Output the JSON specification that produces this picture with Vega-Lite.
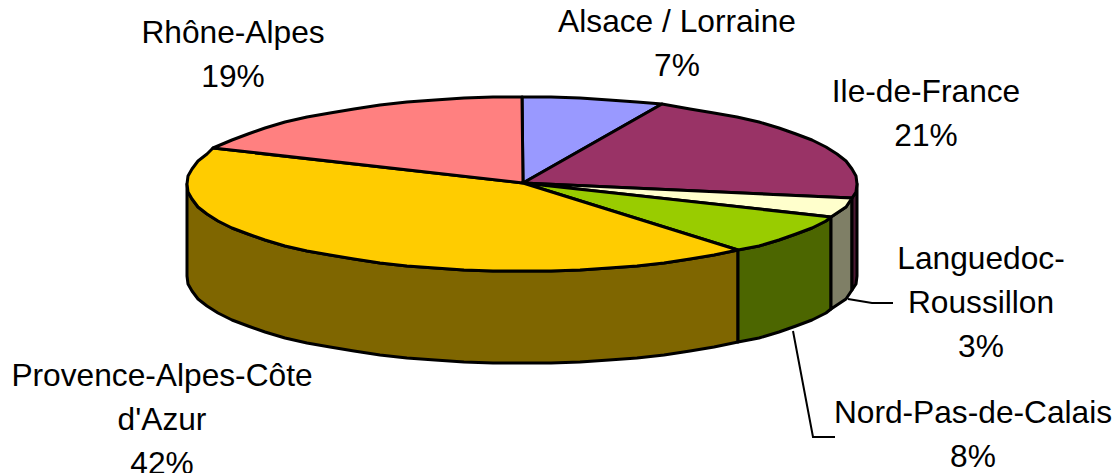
{"$schema":"https://vega.github.io/schema/vega-lite/v6.json","width":1114,"height":473,"padding":0,"autosize":"none","background":"white","view":{"stroke":null},"projection":{"type":"identity","reflectY":false,"scale":1,"translate":[522,184]},"layer":[{"data":{"values":[
{"type":"Feature","properties":{"part":"Provence wall"},"geometry":{"type":"Polygon","coordinates":[[[-335,0],[-334,8],[-330,15],[-324,23],[-315,30],[-304,37],[-290,44],[-274,50],[-257,56],[-237,62],[-215,67],[-192,71],[-168,75],[-142,79],[-115,82],[-87,84],[-58,86],[-29,87],[0,87],[29,87],[58,86],[87,84],[115,82],[142,79],[168,75],[192,71],[216,66],[216,158],[192,163],[168,167],[142,171],[115,174],[87,176],[58,178],[29,179],[0,179],[-29,179],[-58,178],[-87,176],[-115,174],[-142,171],[-168,167],[-192,163],[-215,159],[-237,154],[-257,148],[-274,142],[-290,136],[-304,129],[-315,122],[-324,115],[-330,107],[-334,100],[-335,92],[-335,0]]]}},
{"type":"Feature","properties":{"part":"Nord wall"},"geometry":{"type":"Polygon","coordinates":[[[216,66],[237,62],[257,56],[274,50],[290,44],[304,37],[309,33],[309,125],[304,129],[290,136],[274,142],[257,148],[237,154],[216,158],[216,66]]]}},
{"type":"Feature","properties":{"part":"Languedoc wall"},"geometry":{"type":"Polygon","coordinates":[[[309,33],[324,23],[330,14],[330,106],[324,115],[309,125],[309,33]]]}},
{"type":"Feature","properties":{"part":"Ile wall"},"geometry":{"type":"Polygon","coordinates":[[[330,14],[334,8],[335,0],[335,92],[334,100],[330,106],[330,14]]]}},
{"type":"Feature","properties":{"part":"Alsace / Lorraine","share":7},"geometry":{"type":"Polygon","coordinates":[[[1,-1],[0,-87],[29,-87],[58,-86],[87,-84],[115,-82],[140,-80],[1,-1]]]}},
{"type":"Feature","properties":{"part":"Ile-de-France","share":21},"geometry":{"type":"Polygon","coordinates":[[[1,-1],[140,-80],[168,-75],[192,-71],[215,-67],[237,-62],[257,-56],[274,-50],[290,-44],[304,-37],[315,-30],[324,-23],[330,-15],[334,-8],[335,0],[334,8],[330,14],[1,-1]]]}},
{"type":"Feature","properties":{"part":"Languedoc-Roussillon","share":3},"geometry":{"type":"Polygon","coordinates":[[[1,-1],[330,14],[324,23],[309,33],[1,-1]]]}},
{"type":"Feature","properties":{"part":"Nord-Pas-de-Calais","share":8},"geometry":{"type":"Polygon","coordinates":[[[1,-1],[309,33],[304,37],[290,44],[274,50],[257,56],[237,62],[216,66],[1,-1]]]}},
{"type":"Feature","properties":{"part":"Provence-Alpes-Côte d'Azur","share":42},"geometry":{"type":"Polygon","coordinates":[[[1,-1],[216,66],[192,71],[168,75],[142,79],[115,82],[87,84],[58,86],[29,87],[0,87],[-29,87],[-58,86],[-87,84],[-115,82],[-142,79],[-168,75],[-192,71],[-215,67],[-237,62],[-257,56],[-274,50],[-290,44],[-304,37],[-315,30],[-324,23],[-330,15],[-334,8],[-335,0],[-334,-8],[-330,-15],[-324,-23],[-315,-30],[-309,-36],[1,-1]]]}},
{"type":"Feature","properties":{"part":"Rhône-Alpes","share":19},"geometry":{"type":"Polygon","coordinates":[[[1,-1],[-309,-36],[-290,-44],[-274,-50],[-257,-56],[-237,-62],[-215,-67],[-192,-71],[-168,-75],[-142,-79],[-115,-82],[-87,-84],[-58,-86],[-29,-87],[0,-87],[1,-1]]]}}
]},"mark":{"type":"geoshape","stroke":"black","strokeWidth":3,"strokeJoin":"round"},"encoding":{"color":{"field":"properties.part","type":"nominal","legend":null,"scale":{"domain":["Provence wall","Nord wall","Languedoc wall","Ile wall","Alsace / Lorraine","Ile-de-France","Languedoc-Roussillon","Nord-Pas-de-Calais","Provence-Alpes-Côte d'Azur","Rhône-Alpes"],"range":["#7F6600","#4C6600","#7F7F66","#4C1933","#9999FF","#993366","#FFFFCC","#99CC00","#FFCC00","#FF8080"]}}}},
{"data":{"values":[
{"type":"Feature","properties":{"part":"Languedoc-Roussillon"},"geometry":{"type":"LineString","coordinates":[[326,115],[350,119],[371,119]]}},
{"type":"Feature","properties":{"part":"Nord-Pas-de-Calais"},"geometry":{"type":"LineString","coordinates":[[271,147],[291,253],[313,253]]}}
]},"mark":{"type":"geoshape","filled":false,"stroke":"black","strokeWidth":2},"encoding":{}},
{"data":{"values":[
{"label":["Rhône-Alpes","19%"],"lon":-289,"lat":-151},
{"label":["Alsace / Lorraine","7%"],"lon":155,"lat":-162},
{"label":["Ile-de-France","21%"],"lon":404,"lat":-92},
{"label":["Languedoc-","Roussillon","3%"],"lon":459,"lat":75},
{"label":["Nord-Pas-de-Calais","8%"],"lon":451,"lat":229},
{"label":["Provence-Alpes-Côte","d'Azur","42%"],"lon":-360,"lat":192}
]},"mark":{"type":"text","font":"Liberation Sans","fontSize":31.7,"lineHeight":44,"align":"center","baseline":"middle","color":"black"},"encoding":{"longitude":{"field":"lon","type":"quantitative"},"latitude":{"field":"lat","type":"quantitative"},"text":{"field":"label"}}}
]}
